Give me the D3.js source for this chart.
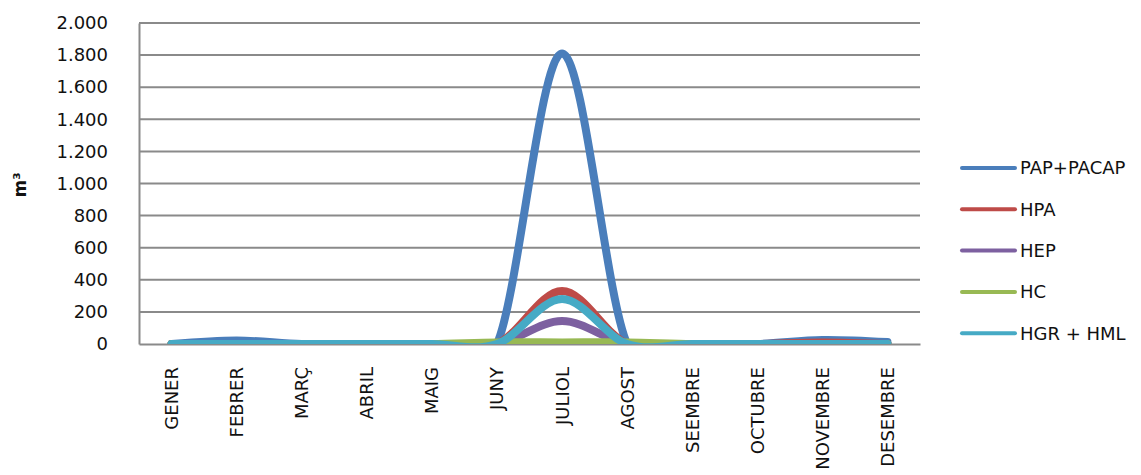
<!DOCTYPE html>
<html>
<head>
<meta charset="utf-8">
<script src="https://cdn.jsdelivr.net/npm/d3@7"></script>
<style>
    html, body { margin: 0; padding: 0; background: #fff; }
    #chart { width: 1141px; height: 475px; overflow: hidden; }
    text { font-family: "DejaVu Sans", sans-serif; fill: #111; }
</style>
</head>
<body>
<div id="chart"></div>
<script>
const MONTHS = ['GENER', 'FEBRER', 'MARÇ', 'ABRIL', 'MAIG', 'JUNY', 'JULIOL',
    'AGOST', 'SEEMBRE', 'OCTUBRE', 'NOVEMBRE', 'DESEMBRE'];

const SERIES_NAMES = ['PAP+PACAP', 'HPA', 'HEP', 'HC', 'HGR + HML'];
const SERIES_COLORS = ['#4a7ebb', '#be4b48', '#7d60a0', '#98b954', '#46aac5'];

const PAP_PACAP = [0, 22, 0, 0, 0, 0, 1810, 0, 0, 0, 25, 12];
const HPA = [0, 0, 0, 0, 0, 0, 330, 0, 0, 0, 10, 0];
const HEP = [0, 0, 0, 0, 0, 0, 143, 0, 0, 0, 0, 0];
const HC = [0, 0, 0, 0, 0, 10, 10, 10, 0, 0, 0, 0];
const HGR_HML = [0, 0, 0, 0, 0, 0, 280, 0, 0, 0, 0, 0];

const Y_TICKS = [0, 200, 400, 600, 800, 1000, 1200, 1400, 1600, 1800, 2000];

function createLineChart() {
    const margin = { top: 23, left: 139 };
    const width = 781;
    const height = 321;
    const seriesValues = [PAP_PACAP, HPA, HEP, HC, HGR_HML];

    const svg = d3.select('#chart')
        .append('svg')
        .attr('width', 1141)
        .attr('height', 475);

    const g = svg.append('g')
        .attr('transform', `translate(${margin.left},${margin.top})`);

    const xScale = d3.scaleBand()
        .domain(MONTHS)
        .range([0, width]);

    const yScale = d3.scaleLinear()
        .domain([0, 2000])
        .range([height, 0]);

    const locale = d3.formatLocale({ decimal: ',', thousands: '.', grouping: [3], currency: ['', ''] });
    const fmt = locale.format(',');

    // gridlines
    g.append('g')
        .selectAll('line')
        .data(Y_TICKS.filter(d => d > 0))
        .enter()
        .append('line')
        .attr('x1', 0)
        .attr('x2', width)
        .attr('y1', d => yScale(d))
        .attr('y2', d => yScale(d))
        .attr('stroke', '#8a8a8a')
        .attr('stroke-width', 2);

    const yAxis = g.append('g')
        .call(d3.axisLeft(yScale).tickValues(Y_TICKS).tickSize(0).tickPadding(31).tickFormat(fmt));
    yAxis.select('.domain').attr('stroke', '#8a8a8a').attr('stroke-width', 2);
    yAxis.selectAll('text')
        .style('font-size', '18px')
        .style('font-family', '"DejaVu Sans", sans-serif')
        .attr('fill', '#111');

    const xAxis = g.append('g')
        .attr('transform', `translate(0,${height})`)
        .call(d3.axisBottom(xScale).tickSize(0).tickPadding(0));
    xAxis.select('.domain').attr('stroke', '#8a8a8a').attr('stroke-width', 2);
    xAxis.selectAll('text')
        .attr('transform', 'rotate(-90)')
        .attr('x', -23)
        .attr('y', 0)
        .attr('dy', '0.36em')
        .style('text-anchor', 'end')
        .style('font-size', '18px')
        .style('font-family', '"DejaVu Sans", sans-serif')
        .attr('fill', '#111');

    // lines clipped to plot area
    svg.append('clipPath')
        .attr('id', 'plotClip')
        .append('rect')
        .attr('x', 0)
        .attr('y', 0)
        .attr('width', width)
        .attr('height', height);

    const line = d3.line()
        .x((d, i) => xScale(MONTHS[i]) + xScale.bandwidth() / 2)
        .y(d => yScale(d))
        .curve(d3.curveCardinal.tension(0));

    g.append('g')
        .attr('clip-path', 'url(#plotClip)')
        .selectAll('path')
        .data(seriesValues)
        .enter()
        .append('path')
        .attr('d', d => line(d))
        .attr('fill', 'none')
        .attr('stroke', (d, i) => SERIES_COLORS[i])
        .attr('stroke-width', 8)
        .attr('stroke-linecap', 'round')
        .attr('stroke-linejoin', 'round');

    // y title
    svg.append('text')
        .attr('transform', 'translate(26,185) rotate(-90)')
        .style('text-anchor', 'middle')
        .style('font-size', '17px')
        .style('font-weight', 'bold')
        .text('m³');

    // legend
    const legend = svg.append('g')
        .attr('transform', 'translate(962,168)');
    const items = legend.selectAll('g')
        .data(SERIES_NAMES)
        .enter()
        .append('g')
        .attr('transform', (d, i) => `translate(0,${i * 41.3})`);
    items.append('line')
        .attr('x1', 0)
        .attr('x2', 53)
        .attr('stroke', (d, i) => SERIES_COLORS[i])
        .attr('stroke-width', 4)
        .attr('stroke-linecap', 'round');
    items.append('text')
        .attr('x', 58)
        .attr('dy', '0.36em')
        .style('font-size', '18px')
        .text(d => d);
}

document.addEventListener('DOMContentLoaded', createLineChart);
</script>
</body>
</html>
